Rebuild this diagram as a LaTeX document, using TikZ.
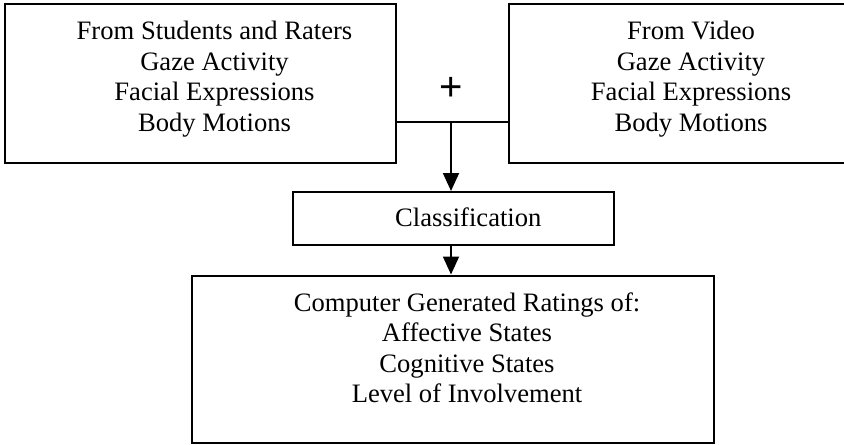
\documentclass[tikz,border=0pt]{standalone}
\usepackage{fontspec}
\setmainfont{Liberation Serif}
\newfontfamily\plusfont{Liberation Sans}
\usetikzlibrary{arrows.meta,positioning}

\begin{document}
\begin{tikzpicture}[x=0.5pt, y=-0.5pt, >={Triangle[length=9pt,width=8pt]},
  box/.style={draw, line width=1pt, inner sep=0pt},
  lbl/.style={align=center, inner sep=0pt, font=\fontsize{13.3pt}{15.25pt}\selectfont}]
\clip (0,0) rectangle (844,444);
\node[box, minimum width=195.5pt, minimum height=79.5pt] (src) at (200.5,83.5) {};
\node[box, minimum width=170.6pt, minimum height=79.5pt] (vid) at (679.4,83.5) {};
\node[box, minimum width=160.5pt, minimum height=26.5pt] (cls) at (453.5,218.5) {};
\node[box, minimum width=261pt, minimum height=83.5pt] (out) at (453,359) {};
\node[lbl, anchor=north] (srctxt) at (214.5,21) {From Students and Raters\\Gaze Activity\\Facial Expressions\\Body Motions};
\node[lbl, anchor=north] (vidtxt) at (691,21) {From Video\\Gaze Activity\\Facial Expressions\\Body Motions};
\node[lbl, anchor=base] (clstxt) at (468.3,226.7) {Classification};
\node[lbl, anchor=north] (outtxt) at (467,292) {Computer Generated Ratings of:\\Affective States\\Cognitive States\\Level of Involvement};
\node[inner sep=0pt, font=\plusfont\fontsize{20pt}{20pt}\selectfont] (plus) at (451,89) {+};
\coordinate (jn) at (451,121.7);
\draw[line width=0.9pt] (src.east |- jn) -- (vid.west |- jn);
\draw[->, line width=0.9pt] (jn) -- (jn |- cls.north);
\draw[->, line width=0.9pt] (jn |- cls.south) -- (jn |- out.north);
\end{tikzpicture}
\end{document}
